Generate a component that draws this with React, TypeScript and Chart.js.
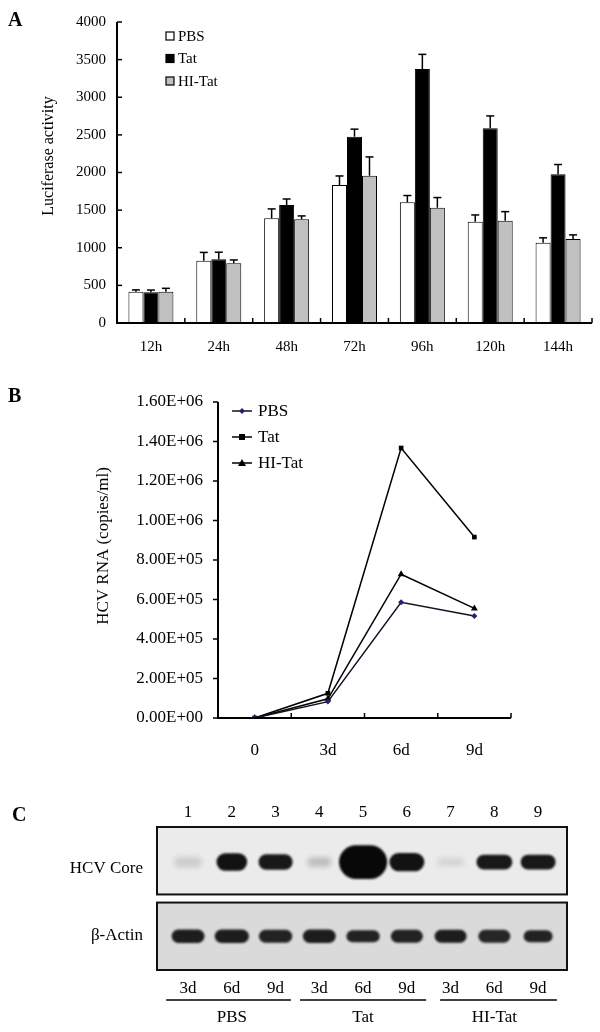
import React, { useEffect, useRef } from 'react';
import { Chart, registerables } from 'chart.js';

Chart.register(...registerables);

const SERIF = "'Liberation Serif', 'Times New Roman', Times, serif";
Chart.defaults.font.family = SERIF;
Chart.defaults.color = '#000';

// ---------------- Panel A: luciferase activity ----------------
const hourLabels = ['12h', '24h', '48h', '72h', '96h', '120h', '144h'];
const seriesNames = ['PBS', 'Tat', 'HI-Tat'];
const pbsLuc = [415, 828, 1391, 1834, 1604, 1346, 1067];
const pbsLucErr = [25, 110, 125, 120, 90, 90, 65];
const tatLuc = [408, 846, 1568, 2476, 3375, 2587, 1976];
const tatLucErr = [30, 95, 80, 100, 195, 165, 130];
const hiTatLuc = [416, 793, 1378, 1957, 1532, 1360, 1116];
const hiTatLucErr = [45, 45, 45, 250, 135, 120, 55];
const lucTickLabels = ['0', '500', '1000', '1500', '2000', '2500', '3000', '3500', '4000'];

// ---------------- Panel B: HCV RNA ----------------
const dayLabels = ['0', '3d', '6d', '9d'];
const pbsRna = [0, 83000, 586000, 516000];
const tatRna = [0, 125000, 1367000, 916000];
const hiTatRna = [0, 97000, 728000, 555000];
const rnaTickLabels = ['0.00E+00', '2.00E+05', '4.00E+05', '6.00E+05', '8.00E+05', '1.00E+06', '1.20E+06', '1.40E+06', '1.60E+06'];

// ---------------- Panel C: western blot ----------------
const laneNumbers = ['1', '2', '3', '4', '5', '6', '7', '8', '9'];
const laneDays = ['3d', '6d', '9d', '3d', '6d', '9d', '3d', '6d', '9d'];
const groupNames = ['PBS', 'Tat', 'HI-Tat'];
const groupLaneSpans = [[0.5, 3.35], [3.56, 6.44], [6.76, 9.43]];
const rowNames = ['HCV Core', 'β-Actin'];
const coreSignal = [0.13, 0.96, 0.93, 0.2, 1.0, 0.96, 0.1, 0.93, 0.93];
const coreBandWidth = [0.64, 0.7, 0.78, 0.55, 1.1, 0.8, 0.6, 0.82, 0.8];
const coreBandHeight = [0.16, 0.26, 0.23, 0.14, 0.5, 0.27, 0.12, 0.22, 0.22];
const actinSignal = [0.9, 0.9, 0.88, 0.9, 0.88, 0.88, 0.9, 0.86, 0.88];
const actinBandWidth = [0.75, 0.78, 0.76, 0.75, 0.76, 0.73, 0.73, 0.73, 0.66];
const actinBandHeight = [0.2, 0.2, 0.19, 0.2, 0.18, 0.19, 0.19, 0.19, 0.18];

const line = (ctx: CanvasRenderingContext2D, x1: number, y1: number, x2: number, y2: number) => {
  ctx.beginPath();
  ctx.moveTo(x1, y1);
  ctx.lineTo(x2, y2);
  ctx.stroke();
};

const rotatedText = (ctx: CanvasRenderingContext2D, text: string, x: number, y: number, font: string) => {
  ctx.save();
  ctx.translate(x, y);
  ctx.rotate(-Math.PI / 2);
  ctx.font = font;
  ctx.textAlign = 'center';
  ctx.textBaseline = 'middle';
  ctx.fillStyle = '#000';
  ctx.fillText(text, 0, 0);
  ctx.restore();
};

const panelAPlugin = {
  id: 'panelA',
  afterDraw(chart: any) {
    const { ctx, chartArea: a, scales } = chart;
    const y = scales.y;
    const x = scales.x;
    const vals = [pbsLuc, tatLuc, hiTatLuc];
    const errs = [pbsLucErr, tatLucErr, hiTatLucErr];
    ctx.save();
    ctx.strokeStyle = '#000';
    ctx.lineWidth = 1.5;
    errs.forEach((err, di) => {
      chart.getDatasetMeta(di).data.forEach((el: any, i: number) => {
        const top = y.getPixelForValue(vals[di][i] + err[i]);
        line(ctx, el.x, el.y, el.x, top);
        line(ctx, el.x - 4, top, el.x + 4, top);
      });
    });
    // axes
    ctx.lineWidth = 2;
    ctx.beginPath();
    ctx.moveTo(a.left, a.top);
    ctx.lineTo(a.left, a.bottom);
    ctx.lineTo(a.right, a.bottom);
    ctx.stroke();
    ctx.lineWidth = 1.5;
    y.ticks.forEach((t: any) => {
      const py = y.getPixelForValue(t.value);
      line(ctx, a.left, py, a.left + 5, py);
    });
    for (let i = 1; i <= hourLabels.length; i++) {
      const px = x.getPixelForValue(i - 0.5);
      line(ctx, px, a.bottom, px, a.bottom - 5);
    }
    // legend
    const fills = ['#ffffff', '#000000', '#c0c0c0'];
    ctx.font = `15px ${SERIF}`;
    ctx.textBaseline = 'middle';
    ctx.textAlign = 'left';
    seriesNames.forEach((name, i) => {
      const cy = 36 + i * 22.5;
      ctx.fillStyle = fills[i];
      ctx.fillRect(166, cy - 4, 8, 8);
      ctx.lineWidth = 1.2;
      ctx.strokeRect(166, cy - 4, 8, 8);
      ctx.fillStyle = '#000';
      ctx.fillText(name, 178, cy + 1);
    });
    // title and letter
    rotatedText(ctx, 'Luciferase activity', 49, 156, `16px ${SERIF}`);
    ctx.font = `bold 20px ${SERIF}`;
    ctx.textBaseline = 'alphabetic';
    ctx.fillStyle = '#000';
    ctx.fillText('A', 8, 26);
    ctx.restore();
  },
};

const panelBPlugin = {
  id: 'panelB',
  afterDraw(chart: any) {
    const { ctx, chartArea: a, scales } = chart;
    const y = scales.y;
    const x = scales.x;
    ctx.save();
    ctx.strokeStyle = '#000';
    ctx.lineWidth = 2;
    ctx.beginPath();
    ctx.moveTo(a.left, a.top);
    ctx.lineTo(a.left, a.bottom);
    ctx.lineTo(a.right, a.bottom);
    ctx.stroke();
    ctx.lineWidth = 1.5;
    y.ticks.forEach((t: any) => {
      const py = y.getPixelForValue(t.value);
      line(ctx, a.left - 5, py, a.left, py);
    });
    for (let i = 1; i <= dayLabels.length; i++) {
      const px = x.getPixelForValue(i - 0.5);
      line(ctx, px, a.bottom, px, a.bottom - 5);
    }
    // legend
    ctx.font = `17px ${SERIF}`;
    ctx.textBaseline = 'middle';
    ctx.textAlign = 'left';
    chart.data.datasets.forEach((ds: any, i: number) => {
      const cy = 41 + i * 26;
      ctx.strokeStyle = ds.borderColor;
      ctx.lineWidth = 1.5;
      line(ctx, 232, cy, 252, cy);
      ctx.fillStyle = ds.pointBackgroundColor;
      ctx.beginPath();
      if (ds.pointStyle === 'rectRot') {
        ctx.moveTo(242, cy - 3); ctx.lineTo(245, cy); ctx.lineTo(242, cy + 3); ctx.lineTo(239, cy);
      } else if (ds.pointStyle === 'rect') {
        ctx.rect(239, cy - 3, 6, 6);
      } else {
        ctx.moveTo(242, cy - 4); ctx.lineTo(246, cy + 3); ctx.lineTo(238, cy + 3);
      }
      ctx.closePath();
      ctx.fill();
      ctx.fillStyle = '#000';
      ctx.fillText(seriesNames[i], 258, cy + 1);
    });
    rotatedText(ctx, 'HCV RNA (copies/ml)', 104, 176, `17px ${SERIF}`);
    ctx.font = `bold 20px ${SERIF}`;
    ctx.textBaseline = 'alphabetic';
    ctx.fillStyle = '#000';
    ctx.fillText('B', 8, 32);
    ctx.restore();
  },
};

const drawBand = (ctx: CanvasRenderingContext2D, cx: number, cy: number, w: number, h: number, alpha: number) => {
  ctx.save();
  ctx.filter = alpha < 0.5 ? 'blur(2.5px)' : 'blur(1.3px)';
  ctx.fillStyle = `rgba(8,8,8,${alpha})`;
  ctx.beginPath();
  (ctx as any).roundRect(cx - w / 2, cy - h / 2, w, h, h / 2);
  ctx.fill();
  ctx.restore();
};

const panelCPlugin = {
  id: 'panelC',
  beforeDatasetsDraw(chart: any) {
    const { ctx, chartArea: a, scales } = chart;
    const x = scales.x;
    const y = scales.y;
    const laneW = x.getPixelForValue(1) - x.getPixelForValue(0);
    const rowH = Math.abs(y.getPixelForValue(1) - y.getPixelForValue(0));
    const boxes = [[0, 1, '#ebebeb'], [1.12, 2.12, '#dadada']];
    const rows = [
      { meta: chart.getDatasetMeta(0), sig: coreSignal, w: coreBandWidth, h: coreBandHeight },
      { meta: chart.getDatasetMeta(1), sig: actinSignal, w: actinBandWidth, h: actinBandHeight },
    ];
    ctx.save();
    boxes.forEach((b: any, bi) => {
      const top = y.getPixelForValue(b[0]);
      const bottom = y.getPixelForValue(b[1]);
      ctx.save();
      ctx.beginPath();
      ctx.rect(a.left, top, a.right - a.left, bottom - top);
      ctx.clip();
      ctx.fillStyle = b[2];
      ctx.fillRect(a.left, top, a.right - a.left, bottom - top);
      const r = rows[bi];
      r.meta.data.forEach((el: any, i: number) => {
        drawBand(ctx, el.x, el.y, r.w[i] * laneW, r.h[i] * rowH, r.sig[i]);
      });
      ctx.restore();
      ctx.strokeStyle = '#111';
      ctx.lineWidth = 2;
      ctx.strokeRect(a.left, top, a.right - a.left, bottom - top);
    });
    // group underlines and names
    ctx.strokeStyle = '#000';
    ctx.lineWidth = 1.5;
    ctx.font = `17px ${SERIF}`;
    ctx.textAlign = 'center';
    ctx.textBaseline = 'middle';
    ctx.fillStyle = '#000';
    groupNames.forEach((g, i) => {
      const [s, e] = groupLaneSpans[i];
      line(ctx, x.getPixelForValue(s), a.bottom + 30, x.getPixelForValue(e), a.bottom + 30);
      ctx.fillText(g, x.getPixelForValue(i * 3 + 2), a.bottom + 48);
    });
    ctx.font = `bold 20px ${SERIF}`;
    ctx.textAlign = 'left';
    ctx.textBaseline = 'alphabetic';
    ctx.fillText('C', 12, 41);
    ctx.restore();
  },
};

const noGrid = { display: false, drawTicks: false };

const PanelA = () => {
  const ref = useRef<HTMLCanvasElement>(null);
  useEffect(() => {
    const chart = new Chart(ref.current!, {
      type: 'bar',
      data: {
        labels: hourLabels,
        datasets: [
          { label: seriesNames[0], data: pbsLuc, backgroundColor: '#ffffff', borderColor: '#000', borderWidth: 1 },
          { label: seriesNames[1], data: tatLuc, backgroundColor: '#000000', borderColor: '#000', borderWidth: 1 },
          { label: seriesNames[2], data: hiTatLuc, backgroundColor: '#c0c0c0', borderColor: '#000', borderWidth: 1 },
        ],
      },
      options: {
        responsive: false,
        animation: false,
        devicePixelRatio: 1,
        layout: { padding: { top: 22, right: 8, left: 0, bottom: 0 } },
        datasets: { bar: { categoryPercentage: 0.663, barPercentage: 1 } },
        plugins: { legend: { display: false }, tooltip: { enabled: false } },
        scales: {
          x: {
            grid: noGrid,
            border: { display: false },
            afterFit: (axis: any) => { axis.height = 42; },
            ticks: { padding: 15, font: { size: 15 }, color: '#000', maxRotation: 0 },
          },
          y: {
            min: 0,
            max: 4000,
            grid: noGrid,
            border: { display: false },
            afterFit: (axis: any) => { axis.width = 117; },
            ticks: { stepSize: 500, padding: 11, font: { size: 15 }, color: '#000', callback: (_v: any, i: number) => lucTickLabels[i] },
          },
        },
      } as any,
      plugins: [panelAPlugin],
    });
    return () => chart.destroy();
  }, []);
  return <canvas ref={ref} width={600} height={365} style={{ position: 'absolute', left: 0, top: 0 }} />;
};

const PanelB = () => {
  const ref = useRef<HTMLCanvasElement>(null);
  useEffect(() => {
    const common = { borderColor: '#000', borderWidth: 1.5, tension: 0, fill: false };
    const chart = new Chart(ref.current!, {
      type: 'line',
      data: {
        labels: dayLabels,
        datasets: [
          { ...common, label: seriesNames[0], data: pbsRna, borderColor: '#111122', pointStyle: 'rectRot', pointRadius: 3, pointBackgroundColor: '#23236b', pointBorderColor: '#23236b', pointBorderWidth: 0 },
          { ...common, label: seriesNames[1], data: tatRna, pointStyle: 'rect', pointRadius: 3.3, pointBackgroundColor: '#000', pointBorderColor: '#000', pointBorderWidth: 0 },
          { ...common, label: seriesNames[2], data: hiTatRna, pointStyle: 'triangle', pointRadius: 4, pointBackgroundColor: '#000', pointBorderColor: '#000', pointBorderWidth: 0 },
        ],
      },
      options: {
        responsive: false,
        animation: false,
        devicePixelRatio: 1,
        layout: { padding: { top: 32, right: 89, left: 0, bottom: 0 } },
        plugins: { legend: { display: false }, tooltip: { enabled: false } },
        scales: {
          x: {
            offset: true,
            grid: { ...noGrid, offset: true },
            border: { display: false },
            afterFit: (axis: any) => { axis.height = 52; },
            ticks: { padding: 22, font: { size: 17 }, color: '#000', maxRotation: 0 },
          },
          y: {
            min: 0,
            max: 1600000,
            grid: noGrid,
            border: { display: false },
            afterFit: (axis: any) => { axis.width = 218; },
            ticks: { stepSize: 200000, padding: 15, font: { size: 17 }, color: '#000', callback: (_v: any, i: number) => rnaTickLabels[i] },
          },
        },
      } as any,
      plugins: [panelBPlugin],
    });
    return () => chart.destroy();
  }, []);
  return <canvas ref={ref} width={600} height={400} style={{ position: 'absolute', left: 0, top: 370 }} />;
};

const laneMin = 0.29;
const laneMax = 9.66;
const coreRowCenter = 0.52;
const actinRowCenter = 1.62;
const rowLabelPos = [0.62, 1.61];

const PanelC = () => {
  const ref = useRef<HTMLCanvasElement>(null);
  useEffect(() => {
    const chart = new Chart(ref.current!, {
      type: 'scatter',
      data: {
        datasets: [
          { data: laneNumbers.map((_, i) => ({ x: i + 1, y: coreRowCenter })), pointRadius: 0, xAxisID: 'x', yAxisID: 'y' },
          { data: laneNumbers.map((_, i) => ({ x: i + 1, y: actinRowCenter })), pointRadius: 0, xAxisID: 'x', yAxisID: 'y' },
        ],
      },
      options: {
        responsive: false,
        animation: false,
        devicePixelRatio: 1,
        layout: { padding: { top: 0, right: 33, left: 0, bottom: 0 } },
        plugins: { legend: { display: false }, tooltip: { enabled: false } },
        scales: {
          x: {
            type: 'linear',
            axis: 'x',
            position: 'bottom',
            min: laneMin,
            max: laneMax,
            grid: noGrid,
            border: { display: false },
            afterBuildTicks: (axis: any) => { axis.ticks = laneDays.map((_, i) => ({ value: i + 1 })); },
            afterFit: (axis: any) => { axis.height = 62; },
            ticks: { autoSkip: false, maxRotation: 0, padding: 8, font: { size: 17 }, color: '#000', callback: (_v: any, i: number) => laneDays[i] },
          },
          xTop: {
            type: 'linear',
            axis: 'x',
            position: 'top',
            min: laneMin,
            max: laneMax,
            grid: noGrid,
            border: { display: false },
            afterBuildTicks: (axis: any) => { axis.ticks = laneNumbers.map((_, i) => ({ value: i + 1 })); },
            afterFit: (axis: any) => { axis.height = 47; },
            ticks: { autoSkip: false, maxRotation: 0, padding: 4, font: { size: 17 }, color: '#000', callback: (_v: any, i: number) => laneNumbers[i] },
          },
          y: {
            type: 'linear',
            min: 0,
            max: 2.12,
            reverse: true,
            grid: noGrid,
            border: { display: false },
            afterBuildTicks: (axis: any) => { axis.ticks = rowLabelPos.map((v) => ({ value: v })); },
            afterFit: (axis: any) => { axis.width = 157; },
            ticks: { autoSkip: false, padding: 14, font: { size: 17 }, color: '#000', callback: (_v: any, i: number) => rowNames[i] },
          },
        },
      } as any,
      plugins: [panelCPlugin],
    });
    return () => chart.destroy();
  }, []);
  return <canvas ref={ref} width={600} height={252} style={{ position: 'absolute', left: 0, top: 780 }} />;
};

export default function App() {
  return (
    <div style={{ position: 'absolute', left: 0, top: 0, width: 600, height: 1032, background: '#fff', overflow: 'hidden' }}>
      <PanelA />
      <PanelB />
      <PanelC />
    </div>
  );
}
